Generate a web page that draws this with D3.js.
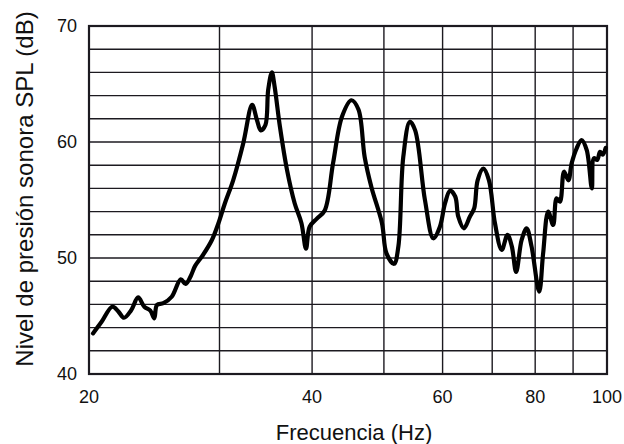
<!DOCTYPE html>
<html>
<head>
<meta charset="utf-8">
<script src="https://cdn.jsdelivr.net/npm/d3@7"></script>
<style>
  html, body { margin: 0; padding: 0; background: #fff; }
  svg { display: block; font-family: "Liberation Sans", Arial, sans-serif; }
</style>
</head>
<body>
<svg id="chart" width="624" height="444"></svg>
<script>
// Frequency response: sound pressure level vs. frequency (log axis)
const freqHz = [
  20.25, 20.8, 21.5, 21.9, 22.3, 22.8, 23.3, 23.75, 24.2, 24.5, 24.7, 25.2, 25.86,
  26.6, 27.0, 27.46, 27.8, 28.5, 29.3, 29.9, 30.5, 31.3, 32.3, 33.2, 33.7, 34.1,
  34.6, 34.9, 35.3, 35.6, 36.2, 37.0, 37.9, 38.7, 39.25, 39.7, 40.6, 41.6, 42.7,
  43.9, 45.2, 46.2, 47.1, 48.1, 49.7, 50.4, 51.6, 52.3, 53.1, 54.2, 55.1, 56.8,
  58.3, 59.5, 60.45, 61.4, 62.4, 63.0, 64.1, 65.3, 66.2, 66.9, 68.1, 69.3, 70.6,
  72.1, 73.4, 74.4, 75.4, 76.7, 77.9, 79.1, 81.0, 82.0, 83.3, 84.6, 85.5, 86.4,
  87.5, 88.7, 89.6, 91.0, 92.4, 93.9, 95.4, 96.0, 97.0, 97.85, 98.7, 99.6
];
const splDb = [
  43.5, 44.5, 45.8, 45.4, 44.85, 45.5, 46.6, 45.8, 45.46, 44.8, 45.95, 46.1, 46.66,
  48.16, 47.76, 48.5, 49.3, 50.26, 51.55, 53.0, 54.7, 56.7, 59.9, 63.2, 61.9, 61.0,
  61.47, 64.5, 66.0, 64.8, 61.3, 57.6, 54.7, 53.0, 50.8, 52.7, 53.4, 54.1, 58.2,
  62.2, 63.6, 62.8, 58.7, 56.1, 53.0, 50.4, 49.5, 51.0, 58.7, 61.75, 61.0, 55.0,
  51.7, 52.7, 54.7, 55.8, 55.3, 53.56, 52.56, 53.56, 54.3, 56.7, 57.7, 56.7, 53.0,
  50.7, 52.0, 51.0, 48.8, 51.55, 52.56, 51.0, 47.1, 50.4, 54.0, 52.85, 55.15, 54.85,
  57.44, 56.7, 58.16, 59.46, 60.17, 59.3, 56.0, 58.6, 58.45, 59.16, 58.9, 59.5
];
const xGridHz = [30, 40, 50, 60, 70, 80, 90];
const xTickLabels = [20, 40, 60, 80, 100];
const yGridDb = d3.range(42, 70, 2);
const yTickLabels = [40, 50, 60, 70];

const svg = d3.select("#chart");
const plotLeft = 89, plotRight = 607, plotTop = 26, plotBottom = 374;

const x = d3.scaleLog().domain([20, 100]).range([plotLeft, plotRight]);
const y = d3.scaleLinear().domain([40, 70]).range([plotBottom, plotTop]);

const ink = "#1c1a20";

// grid
svg.append("g").selectAll("line").data(yGridDb).join("line")
  .attr("x1", plotLeft).attr("x2", plotRight)
  .attr("y1", d => y(d)).attr("y2", d => y(d))
  .attr("stroke", ink).attr("stroke-width", 1.4);
svg.append("g").selectAll("line").data(xGridHz).join("line")
  .attr("x1", d => x(d)).attr("x2", d => x(d))
  .attr("y1", plotTop).attr("y2", plotBottom)
  .attr("stroke", ink).attr("stroke-width", 1.4);

// frame
svg.append("rect")
  .attr("x", plotLeft).attr("y", plotTop)
  .attr("width", plotRight - plotLeft).attr("height", plotBottom - plotTop)
  .attr("fill", "none").attr("stroke", ink).attr("stroke-width", 2.2);

// tick labels
svg.append("g").selectAll("text").data(xTickLabels).join("text")
  .attr("x", d => x(d)).attr("y", 403)
  .attr("text-anchor", "middle")
  .attr("font-size", 18).attr("fill", "#111")
  .text(d => d);
svg.append("g").selectAll("text").data(yTickLabels).join("text")
  .attr("x", 77).attr("y", d => y(d) + 6)
  .attr("text-anchor", "end")
  .attr("font-size", 18).attr("fill", "#111")
  .text(d => d);

// axis titles
svg.append("text")
  .attr("x", 354).attr("y", 440)
  .attr("text-anchor", "middle")
  .attr("font-size", 22).attr("fill", "#111")
  .text("Frecuencia (Hz)");
svg.append("text")
  .attr("transform", "translate(33,189) rotate(-90)")
  .attr("text-anchor", "middle")
  .attr("font-size", 24).attr("fill", "#111")
  .text("Nivel de presión sonora SPL (dB)");

// response curve
const points = freqHz.map((f, i) => [f, splDb[i]]);
const line = d3.line()
  .x(d => x(d[0])).y(d => y(d[1]))
  .curve(d3.curveCatmullRom.alpha(0.5));
svg.append("path")
  .attr("d", line(points))
  .attr("fill", "none")
  .attr("stroke", "#000")
  .attr("stroke-width", 4.2)
  .attr("stroke-linejoin", "round")
  .attr("stroke-linecap", "round");
</script>
</body>
</html>
